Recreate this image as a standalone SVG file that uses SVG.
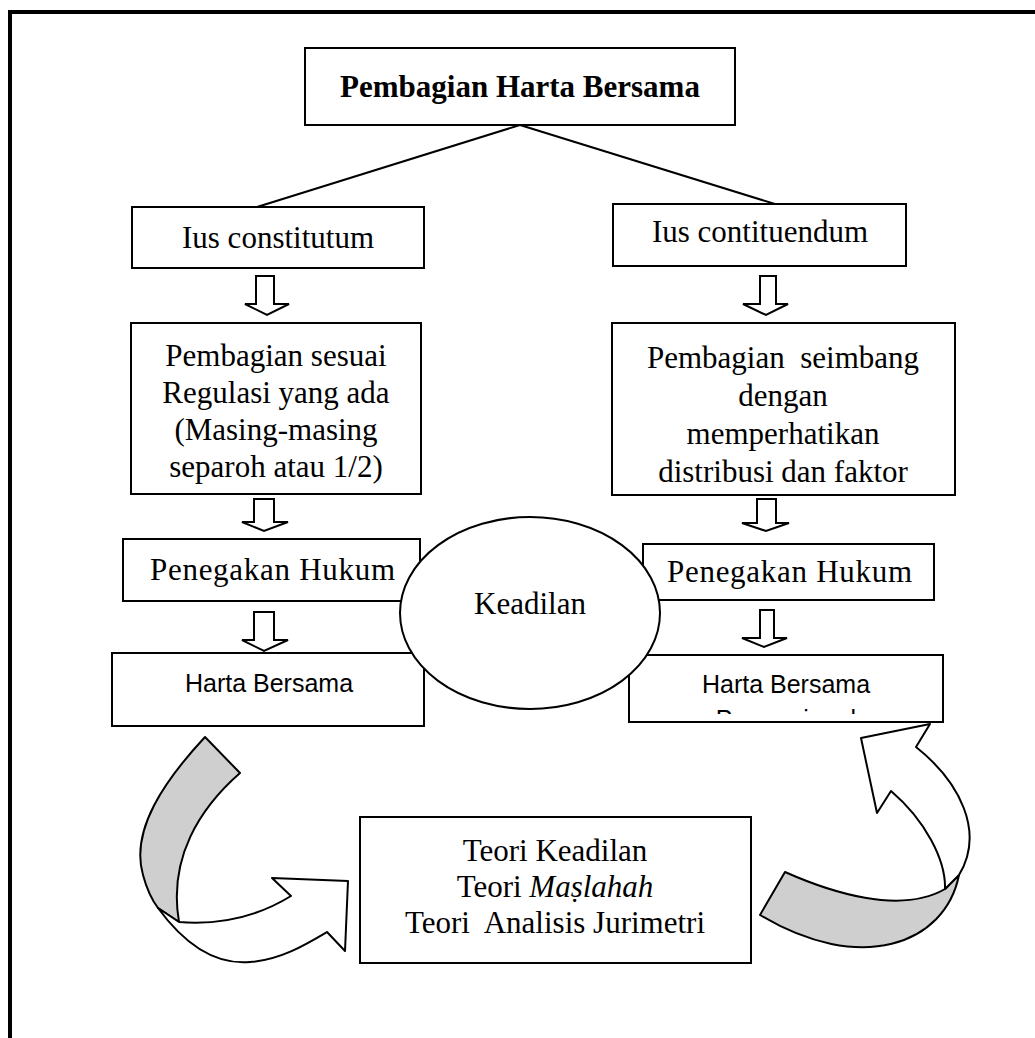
<svg xmlns="http://www.w3.org/2000/svg" width="1035" height="1038" viewBox="0 0 1035 1038">
<style>
.box{fill:#fff;stroke:#000;stroke-width:2}
.t{font-family:"Liberation Serif","Times New Roman",serif;font-size:31px;fill:#000;text-anchor:middle}
.b{font-weight:bold}
.s{font-family:"Liberation Sans",Arial,sans-serif;font-size:25px;fill:#000;text-anchor:middle}
.arr{fill:#fff;stroke:#000;stroke-width:2;stroke-linejoin:miter}
.ln{stroke:#000;stroke-width:2;fill:none}
.rib{stroke:#000;stroke-width:2;stroke-linejoin:round}
.gray{fill:#cfcfcf}
.white{fill:#fff}
</style>
<defs>
<clipPath id="clipR"><rect x="630" y="656" width="312" height="58"/></clipPath>
</defs>
<rect width="1035" height="1038" fill="#fff"/>
<g id="frame"><path d="M10,1038 V12 H1035" fill="none" stroke="#000" stroke-width="4"/></g>

<g id="connectors">
<line class="ln" x1="520" y1="125" x2="257" y2="207"/>
<line class="ln" x1="520" y1="125" x2="775" y2="204"/>
<polygon class="arr" points="256,276 274,276 274,304 289,304 267,315 245,304 256,304"/>
<polygon class="arr" points="760,276 776,276 776,304 788,304 766,315 743,304 760,304"/>
<polygon class="arr" points="254,499 274,499 274,522 288,522 264,531 242,522 254,522"/>
<polygon class="arr" points="757,499 776,499 776,523 789,523 766,531 742,523 757,523"/>
<polygon class="arr" points="254,612 274,612 274,640 288,640 264,651 242,640 254,640"/>
<polygon class="arr" points="760,610 774,610 774,638 787,638 764,647 742,638 760,638"/>
<path class="rib gray" d="M205,737 C165,780 130,830 143,875 C147,890 152,900 158,908 L179,922 C168,858 200,808 240,773 Z"/>
<path class="rib white" d="M158,908 C185,945 215,965 250,962 C280,960 305,945 327,932 L345,951 L348,881 L272,878 L291,896 C265,912 230,926 179,922 Z"/>
<path class="rib gray" d="M785,872 C830,892 900,915 945,889 L959,875 C945,945 860,975 760,915 Z"/>
<path class="rib white" d="M945,889 C946,860 925,820 891,791 L877,813 L861,738 L930,724 L916,747 C960,782 985,832 959,875 Z"/>
</g>

<g id="title">
<rect class="box" x="305" y="48" width="430" height="77"/>
<text class="t b" x="520" y="97" font-size="33">Pembagian Harta Bersama</text>
</g>

<g id="ius-constitutum">
<rect class="box" x="132" y="207" width="292" height="61"/>
<text class="t" x="278" y="248">Ius constitutum</text>
</g>

<g id="ius-contituendum">
<rect class="box" x="613" y="204" width="293" height="62"/>
<text class="t" x="760" y="242">Ius contituendum</text>
</g>

<g id="pembagian-sesuai">
<rect class="box" x="131" y="323" width="290" height="171"/>
<text class="t" x="276" y="366">Pembagian sesuai</text>
<text class="t" x="276" y="403">Regulasi yang ada</text>
<text class="t" x="276" y="440">(Masing-masing</text>
<text class="t" x="276" y="477">separoh atau 1/2)</text>
</g>

<g id="pembagian-seimbang">
<rect class="box" x="612" y="323" width="343" height="172"/>
<text class="t" x="783" y="368" xml:space="preserve">Pembagian  seimbang</text>
<text class="t" x="783" y="406">dengan</text>
<text class="t" x="783" y="444">memperhatikan</text>
<text class="t" x="783" y="482">distribusi dan faktor</text>
</g>

<g id="penegakan-kiri">
<rect class="box" x="123" y="539" width="297" height="62"/>
<text class="t" x="150" y="580" style="text-anchor:start" textLength="245">Penegakan Hukum</text>
</g>

<g id="penegakan-kanan">
<rect class="box" x="643" y="544" width="291" height="56"/>
<text class="t" x="667" y="582" style="text-anchor:start" textLength="245">Penegakan Hukum</text>
</g>

<g id="harta-kiri">
<rect class="box" x="112" y="653" width="312" height="73"/>
<text class="s" x="269" y="692">Harta Bersama</text>
</g>

<g id="harta-kanan">
<rect class="box" x="629" y="655" width="314" height="67"/>
<text class="s" x="786" y="693">Harta Bersama</text>
<text class="s" x="786" y="728" clip-path="url(#clipR)">Proporsional</text>
</g>

<g id="keadilan">
<ellipse cx="530" cy="613" rx="130" ry="96" fill="#fff" stroke="#000" stroke-width="2"/>
<text class="t" x="530" y="614">Keadilan</text>
</g>

<g id="teori">
<rect class="box" x="360" y="817" width="391" height="146"/>
<text class="t" x="555" y="861">Teori Keadilan</text>
<text class="t" x="555" y="897">Teori <tspan font-style="italic">Maṣlahah</tspan></text>
<text class="t" x="555" y="933" xml:space="preserve">Teori  Analisis Jurimetri</text>
</g>
</svg>
